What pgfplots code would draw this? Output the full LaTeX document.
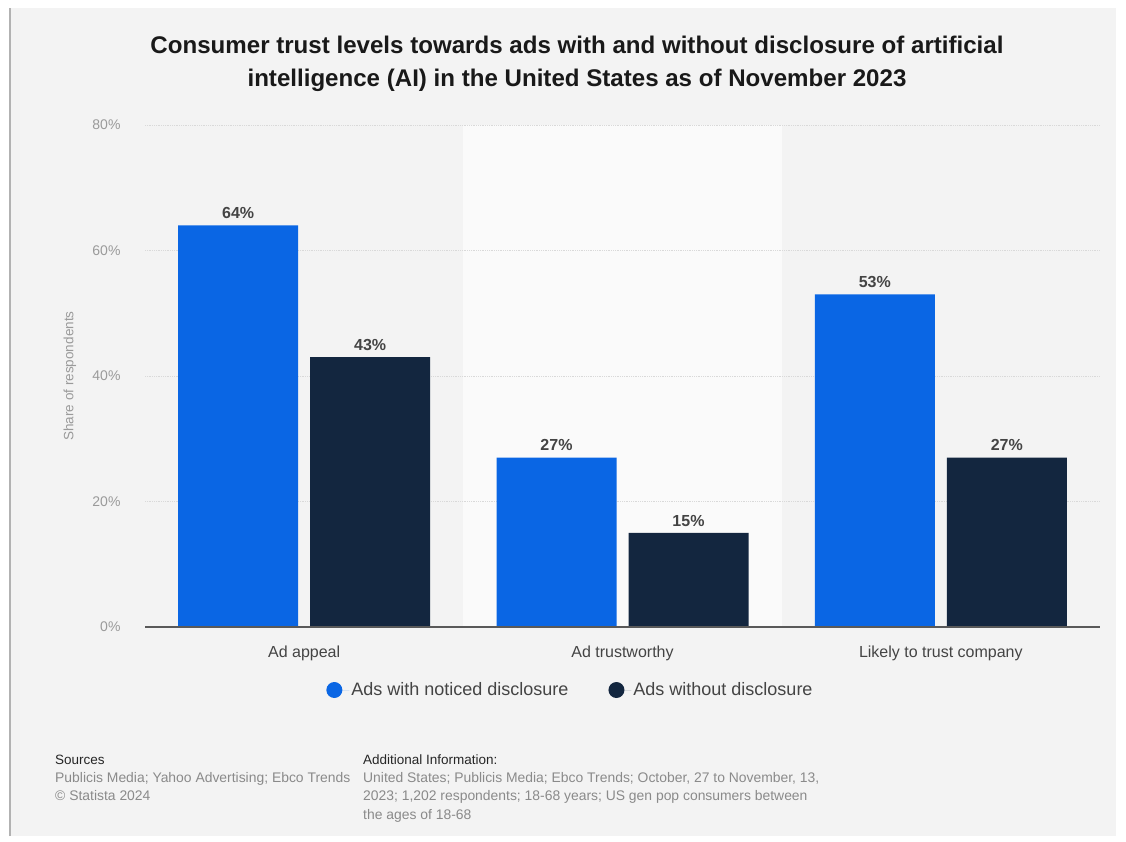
\documentclass[border=0pt]{standalone}
\usepackage{pgfplots}
\pgfplotsset{compat=1.18}
\usepackage{fontspec}
\setmainfont{Liberation Sans}
\definecolor{bg}{HTML}{F3F3F3}
\definecolor{band}{HTML}{FAFAFA}
\definecolor{cblue}{HTML}{0A66E4}
\definecolor{cdark}{HTML}{13263F}
\definecolor{tickgray}{HTML}{9A9A9A}
\definecolor{textdark}{HTML}{444444}
\definecolor{footgray}{HTML}{8A8A8A}
\begin{document}
\begin{tikzpicture}
% page background (1px = 1pt), axis origin at page (145,627)
\fill[white] (-145pt,-214pt) rectangle (981pt,627pt);
\fill[bg] (-135pt,-209pt) rectangle (971pt,619pt);
\draw[gray!60, line width=1.5pt] (-135pt,-209pt) -- (-135pt,619pt);
\begin{axis}[
  at={(0pt,0pt)}, anchor=south west,
  scale only axis, width=955pt, height=502pt,
  xmin=-0.5, xmax=2.5, ymin=0, ymax=80,
  ybar=12pt, bar width=120pt,
  axis line style={draw=none},
  axis x line*=bottom,
  axis y line=none,
  ytick={0,20,40,60,80},
  xtick={0,1,2},
  xticklabels={Ad appeal,Ad trustworthy,Likely to trust company},
  major tick length=0pt,
  clip=false,
  enlarge x limits=false,
  /pgf/number format/assume math mode=true,
  xticklabel style={font=\fontsize{16}{18}\selectfont, text=textdark, yshift=-15pt},
  nodes near coords={\pgfmathprintnumber{\pgfplotspointmeta}\%},
  every node near coord/.append style={font=\bfseries\fontsize{16}{18}\selectfont, text=textdark, yshift=3pt},
  legend style={draw=none, fill=none, at={(0.4455,-0.1255)}, anchor=center,
    legend columns=2, font=\fontsize{18}{20}\selectfont, text=textdark,
    /tikz/every even column/.append style={column sep=38pt}},
  legend image code/.code={\fill[#1] (0pt,0pt) circle (8pt); \path (-8pt,0pt) -- (15pt,0pt);},
]
\fill[band] (axis cs:0.5,0) rectangle (axis cs:1.5,80);
\foreach \v in {20,40,60,80}{
  \edef\tmp{\noexpand\draw[densely dotted, line width=0.8pt, black!15] (axis cs:-0.5,\v) -- (axis cs:2.5,\v);}
  \tmp
}
\foreach \v in {0,20,40,60,80}{
  \edef\tmp{\noexpand\node[anchor=east, text=tickgray, font=\noexpand\fontsize{14}{16}\noexpand\selectfont] at (axis cs:-0.5,\v) [xshift=-21pt] {\v\noexpand\%};}
  \tmp
}
\addplot[fill=cblue, draw=none] coordinates {(0,64) (1,27) (2,53)};
\addplot[fill=cdark, draw=none] coordinates {(0,43) (1,15) (2,27)};
\legend{Ads with noticed disclosure, Ads without disclosure}
\draw[black!65, line width=2pt] (axis cs:-0.5,0) -- (axis cs:2.5,0);
\end{axis}
% y label
\node[rotate=90, text=tickgray, font=\fontsize{13.5}{16}\selectfont] at (-75pt,251pt) {Share of respondents};
% title
\node[align=center, font=\bfseries\fontsize{24.1}{33}\selectfont, text=black!90] at (432pt,563pt)
 {Consumer trust levels towards ads with and without disclosure of artificial\\intelligence (AI) in the United States as of November 2023};
% footer
\node[anchor=west, inner sep=0pt, font=\fontsize{13.5}{18.5}\selectfont, text=black!85] at (-90pt,-133pt) {Sources};
\node[anchor=north west, align=left, font=\fontsize{13.9}{18.7}\selectfont, text=footgray, inner sep=0pt] at (-90pt,-145pt)
 {Publicis Media; Yahoo Advertising; Ebco Trends\\\textcopyright\ Statista 2024};
\node[anchor=west, inner sep=0pt, font=\fontsize{13.5}{18.5}\selectfont, text=black!85] at (218pt,-133pt) {Additional Information:};
\node[anchor=north west, align=left, font=\fontsize{13.9}{18.7}\selectfont, text=footgray, inner sep=0pt] at (218pt,-145pt)
 {United States; Publicis Media; Ebco Trends; October, 27 to November, 13,\\2023; 1,202 respondents; 18-68 years; US gen pop consumers between\\the ages of 18-68};
\end{tikzpicture}
\end{document}
